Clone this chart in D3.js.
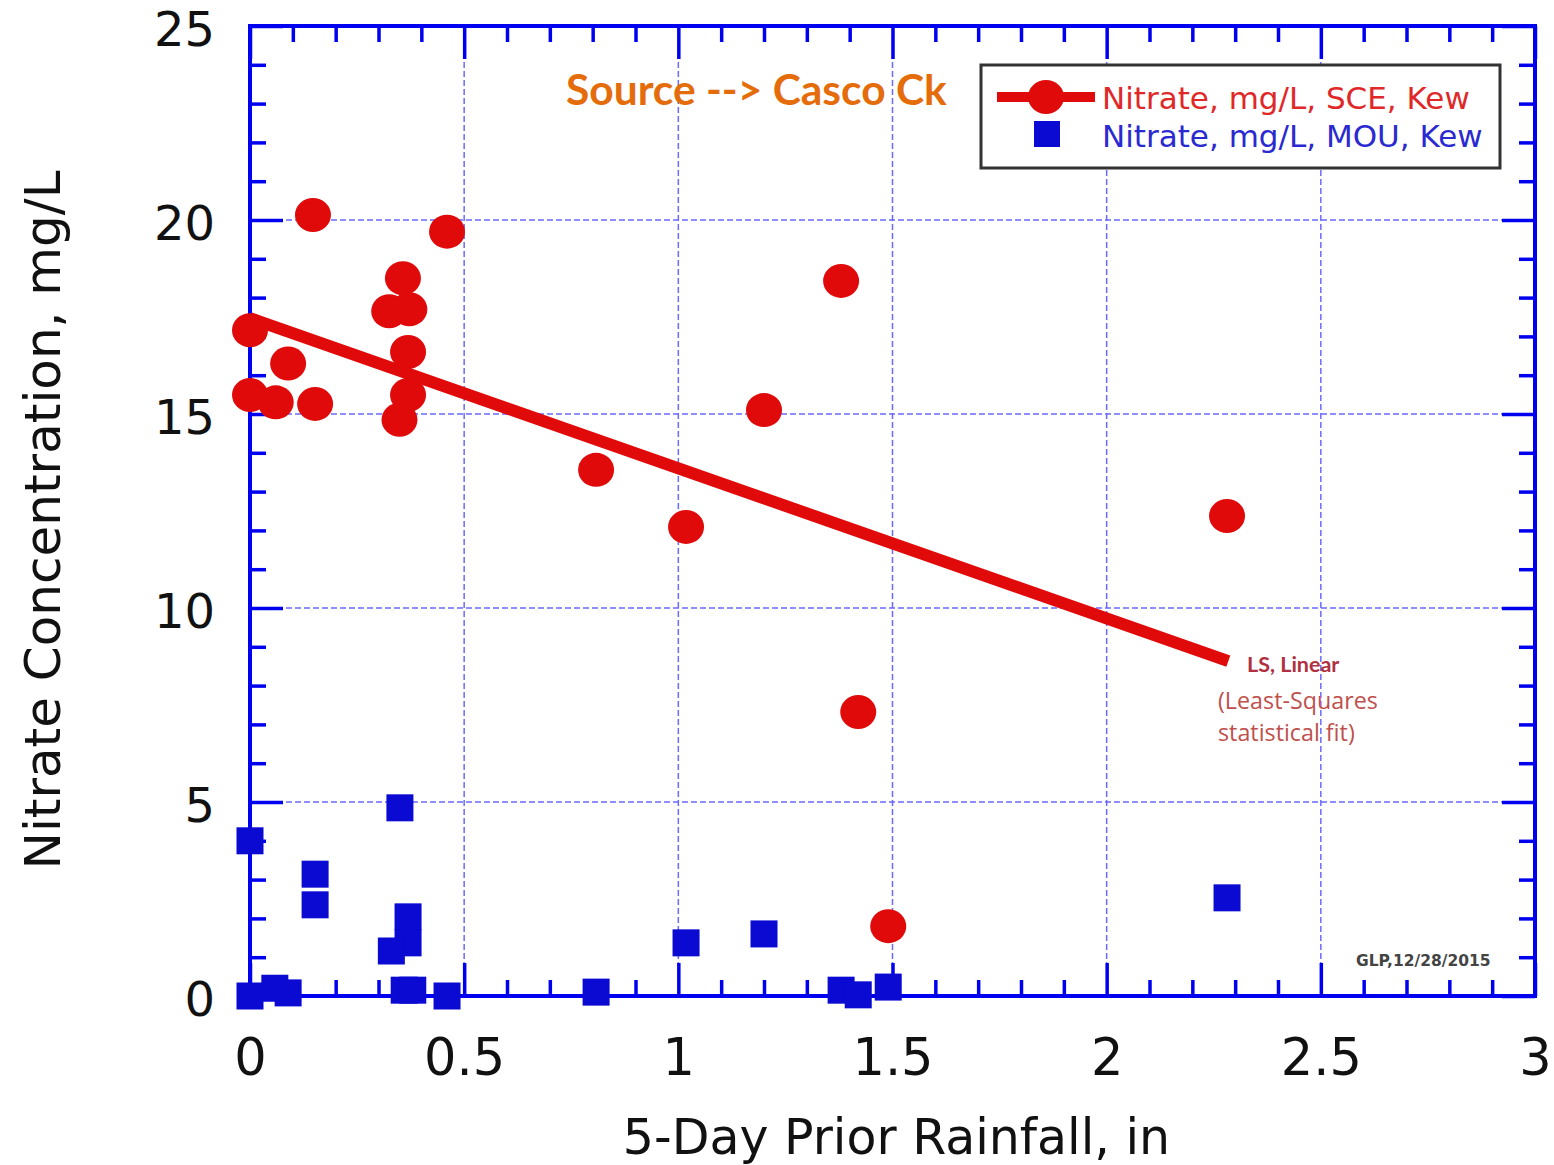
<!DOCTYPE html>
<html>
<head>
<meta charset="utf-8">
<script src="https://cdn.jsdelivr.net/npm/d3@7"></script>
<style>
  html, body { margin: 0; padding: 0; background: #ffffff; }
  svg { display: block; }
</style>
</head>
<body>
<svg id="chart" width="1554" height="1165"></svg>
<script>
// ---------------- data ----------------
const sceX = [0.147, 0.46, 0.0, 0.0, 0.06, 0.089, 0.152, 0.357, 0.325, 0.372, 0.369, 0.369, 0.349, 0.808, 1.018, 1.2, 1.38, 1.42, 1.49, 2.281];
const sceY = [20.13, 19.7, 17.16, 15.49, 15.3, 16.3, 15.26, 18.5, 17.65, 17.7, 16.6, 15.49, 14.85, 13.56, 12.09, 15.1, 18.43, 7.32, 1.8, 12.37];

const mouX = [0.35, 0.0, 0.152, 0.152, 0.369, 0.369, 0.33, 0.0, 0.058, 0.089, 0.36, 0.38, 0.46, 0.808, 1.018, 1.2, 1.38, 1.42, 1.49, 2.281];
const mouY = [4.85, 4.0, 3.14, 2.35, 2.04, 1.37, 1.16, 0.0, 0.2, 0.08, 0.15, 0.15, 0.0, 0.1, 1.37, 1.6, 0.15, 0.03, 0.23, 2.53];

const fitIntercept = 17.47;
const fitSlope = -3.87;
const fitRange = [0, 2.284];

const xTicks = [0, 0.5, 1, 1.5, 2, 2.5, 3];
const yTicks = [0, 5, 10, 15, 20, 25];
const xMinorStep = 0.1;
const yMinorStep = 1;

const legendLabels = ["Nitrate, mg/L, SCE, Kew", "Nitrate, mg/L, MOU, Kew"];
const xTitle = "5-Day Prior Rainfall, in";
const yTitle = "Nitrate Concentration, mg/L";
const noteTitle = "Source --> Casco Ck";
const fitLabel = "LS, Linear";
const fitNote = ["(Least-Squares", "statistical fit)"];
const stamp = "GLP,12/28/2015";

// ---------------- layout ----------------
const svg = d3.select("#chart");
const L = 250, R = 1535, T = 26, B = 996;
const x = d3.scaleLinear().domain([0, 3]).range([L, R]);
const y = d3.scaleLinear().domain([0, 25]).range([B, T]);

const AXIS = "#0000f0";
const RED = "#e00a0a";
const BLUE = "#0a0ad2";
const FONT = "'DejaVu Sans', sans-serif";

const xMinor = d3.range(0, 3 + 1e-9, xMinorStep).map(v => +v.toFixed(2)).filter(v => !xTicks.some(t => Math.abs(t - v) < 1e-6));
const yMinor = d3.range(0, 25 + 1e-9, yMinorStep).filter(v => !yTicks.includes(v));

// gridlines
const grid = svg.append("g").attr("stroke", "#6a6aff").attr("stroke-width", 1.5).attr("stroke-dasharray", "6,3");
grid.selectAll("line.gx").data(xTicks.slice(1, -1)).join("line")
  .attr("x1", d => x(d)).attr("x2", d => x(d)).attr("y1", T).attr("y2", B);
grid.selectAll("line.gy").data(yTicks.slice(1, -1)).join("line")
  .attr("y1", d => y(d)).attr("y2", d => y(d)).attr("x1", L).attr("x2", R);

// axes with inward ticks
function styleAxis(size) {
  return g => {
    g.select(".domain").remove();
    g.selectAll(".tick line").attr("stroke", AXIS).attr("stroke-width", 3.5);
    g.selectAll(".tick text").attr("fill", "#111").style("font-family", FONT).style("font-size", size + "px");
  };
}
const MAJ = 33, MIN = 16;
const fmt = d => String(d);

svg.append("g").attr("transform", `translate(0,${B})`)
  .call(d3.axisBottom(x).tickValues(xTicks).tickSize(-MAJ).tickPadding(43).tickFormat(fmt)).call(styleAxis(51));
svg.append("g").attr("transform", `translate(0,${B})`)
  .call(d3.axisBottom(x).tickValues(xMinor).tickSize(-MIN).tickFormat("")).call(styleAxis(51));
svg.append("g").attr("transform", `translate(0,${T})`)
  .call(d3.axisTop(x).tickValues(xTicks).tickSize(-MAJ).tickFormat("")).call(styleAxis(51));
svg.append("g").attr("transform", `translate(0,${T})`)
  .call(d3.axisTop(x).tickValues(xMinor).tickSize(-MIN).tickFormat("")).call(styleAxis(51));

const yAxisLabels = svg.append("g").attr("transform", `translate(${L},0)`)
  .call(d3.axisLeft(y).tickValues(yTicks).tickSize(-MAJ).tickPadding(35).tickFormat(fmt)).call(styleAxis(48));
yAxisLabels.selectAll(".tick text").attr("dy", "0.4em");
svg.append("g").attr("transform", `translate(${L},0)`)
  .call(d3.axisLeft(y).tickValues(yMinor).tickSize(-MIN).tickFormat("")).call(styleAxis(48));
svg.append("g").attr("transform", `translate(${R},0)`)
  .call(d3.axisRight(y).tickValues(yTicks).tickSize(-MAJ).tickFormat("")).call(styleAxis(48));
svg.append("g").attr("transform", `translate(${R},0)`)
  .call(d3.axisRight(y).tickValues(yMinor).tickSize(-MIN).tickFormat("")).call(styleAxis(48));

// frame
svg.append("rect").attr("x", L).attr("y", T).attr("width", R - L).attr("height", B - T)
  .attr("fill", "none").attr("stroke", AXIS).attr("stroke-width", 4);

// axis titles
svg.append("text").attr("x", (L + R) / 2 + 4).attr("y", 1154).attr("text-anchor", "middle")
  .style("font-family", FONT).style("font-size", "49px").attr("fill", "#111").text(xTitle);
svg.append("text").attr("transform", "translate(60,520) rotate(-90)").attr("text-anchor", "middle")
  .style("font-family", FONT).style("font-size", "50px").attr("fill", "#111").text(yTitle);

// annotations
svg.append("text").attr("x", 566).attr("y", 105)
  .style("font-family", "Lato, 'Open Sans', sans-serif").style("font-weight", "bold").style("font-size", "42.5px")
  .attr("fill", "#e46c0a").text(noteTitle);

svg.append("text").attr("x", 1247).attr("y", 672)
  .style("font-family", "Lato, sans-serif").style("font-weight", "bold").style("font-size", "21.5px")
  .attr("fill", "#b03040").text(fitLabel);
svg.append("g").selectAll("text").data(fitNote).join("text")
  .attr("x", 1218).attr("y", (d, i) => 709 + i * 32)
  .style("font-family", "'Open Sans', sans-serif").style("font-size", "23.3px")
  .attr("fill", "#c0504d").text(d => d);

svg.append("text").attr("x", 1356).attr("y", 966)
  .style("font-family", FONT).style("font-weight", "bold").style("font-size", "15.5px")
  .attr("fill", "#444").text(stamp);

// legend
const lg = svg.append("g");
lg.append("rect").attr("x", 981).attr("y", 65).attr("width", 519).attr("height", 103)
  .attr("fill", "#fff").attr("stroke", "#333").attr("stroke-width", 3);
lg.append("line").attr("x1", 997).attr("x2", 1095).attr("y1", 97).attr("y2", 97)
  .attr("stroke", RED).attr("stroke-width", 10);
lg.append("ellipse").attr("cx", 1046).attr("cy", 97).attr("rx", 18).attr("ry", 17).attr("fill", RED);
lg.append("rect").attr("x", 1034).attr("y", 121).attr("width", 26).attr("height", 26).attr("fill", BLUE);
lg.selectAll("text").data(legendLabels).join("text")
  .attr("x", 1102).attr("y", (d, i) => 109 + i * 38)
  .style("font-family", FONT).style("font-size", "31px")
  .attr("fill", (d, i) => i === 0 ? "#e02828" : "#2a2ad0").text(d => d);

// data: MOU squares
const S = 27;
svg.append("g").selectAll("rect").data(mouX.map((v, i) => [v, mouY[i]])).join("rect")
  .attr("x", d => x(d[0]) - S / 2).attr("y", d => y(d[1]) - S / 2)
  .attr("width", S).attr("height", S).attr("fill", BLUE);

// data: SCE circles
svg.append("g").selectAll("ellipse").data(sceX.map((v, i) => [v, sceY[i]])).join("ellipse")
  .attr("cx", d => x(d[0])).attr("cy", d => y(d[1])).attr("rx", 18).attr("ry", 17).attr("fill", RED);

// fit line
svg.append("line")
  .attr("x1", x(fitRange[0])).attr("y1", y(fitIntercept + fitSlope * fitRange[0]))
  .attr("x2", x(fitRange[1])).attr("y2", y(fitIntercept + fitSlope * fitRange[1]))
  .attr("stroke", RED).attr("stroke-width", 12);
</script>
</body>
</html>
